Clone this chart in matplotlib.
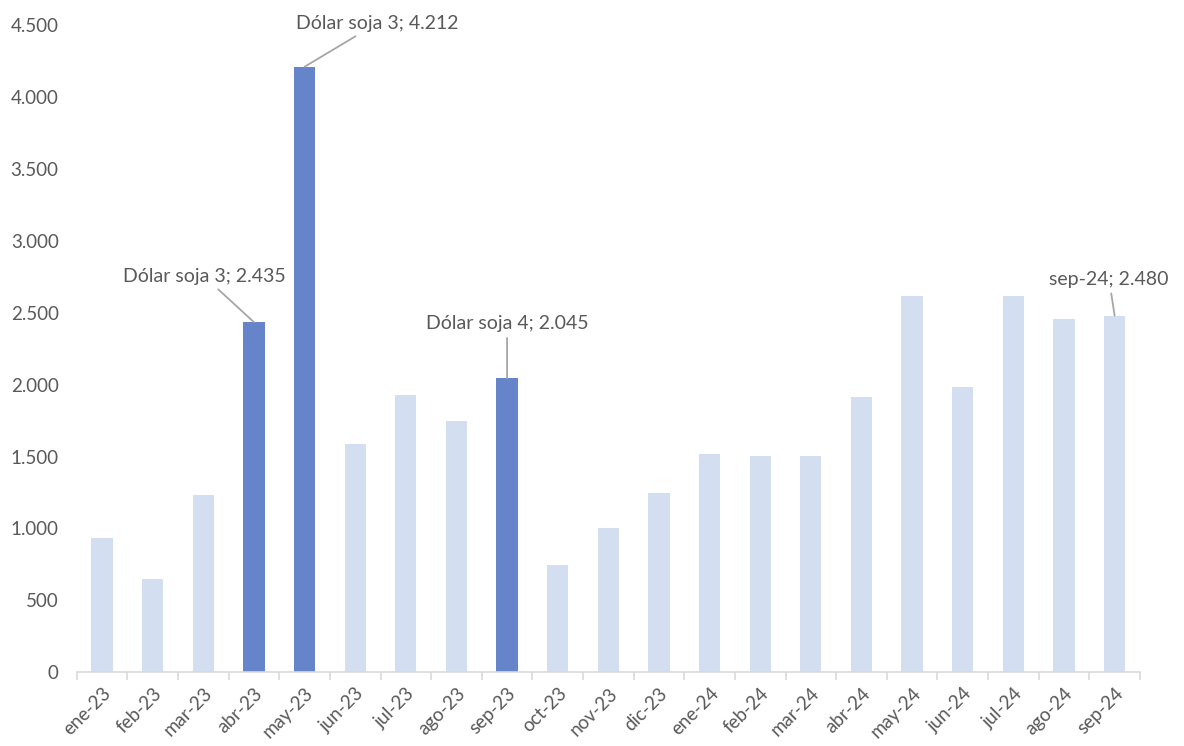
import numpy as np
import matplotlib.pyplot as plt
from matplotlib.ticker import FuncFormatter

months = ['ene-23', 'feb-23', 'mar-23', 'abr-23', 'may-23', 'jun-23', 'jul-23',
          'ago-23', 'sep-23', 'oct-23', 'nov-23', 'dic-23', 'ene-24', 'feb-24',
          'mar-24', 'abr-24', 'may-24', 'jun-24', 'jul-24', 'ago-24', 'sep-24']
values = [930, 647, 1231, 2435, 4212, 1585, 1926, 1745, 2045, 744, 1001, 1245,
          1516, 1502, 1502, 1912, 2615, 1982, 2615, 2455, 2480]
highlight = ['abr-23', 'may-23', 'sep-23']

# labelled bars: (month, text, text offset in points)
labels = [('abr-23', 'Dólar soja 3; 2.435', (-36, 27)),
          ('may-23', 'Dólar soja 3; 4.212', (52, 25)),
          ('sep-23', 'Dólar soja 4; 2.045', (0, 33)),
          ('sep-24', 'sep-24; 2.480', (-4, 20))]

light = '#D3DEF1'
dark = '#6584CA'
grey = '#595959'

plt.rcParams['font.family'] = ['Lato', 'DejaVu Sans']

fig = plt.figure(figsize=(11.84, 7.46), dpi=100)
ax = fig.add_axes([0.0648, 0.099, 0.898, 0.867])

x = np.arange(len(months))
colors = [dark if m in highlight else light for m in months]
ax.bar(x, values, width=0.42, color=colors)

ax.set_xlim(-0.5, len(months) - 0.5)
ax.set_ylim(0, 4500)
ax.set_yticks(np.arange(0, 4501, 500))
ax.yaxis.set_major_formatter(FuncFormatter(lambda v, p: f'{int(v):,}'.replace(',', '.')))

ax.set_xticks(x)
ax.set_xticklabels(months, rotation=45, ha='right', rotation_mode='anchor')
ax.set_xticks(np.arange(-0.5, len(months)), minor=True)
ax.tick_params(axis='x', which='major', length=0, pad=9, labelsize=13.5, colors=grey)
ax.tick_params(axis='x', which='minor', length=6, color='#D9D9D9', width=1.2)
ax.tick_params(axis='y', length=0, labelsize=13.5, colors=grey, pad=13)

for s in ['top', 'right', 'left']:
    ax.spines[s].set_visible(False)
ax.spines['bottom'].set_color('#D9D9D9')
ax.spines['bottom'].set_linewidth(1.2)

for m, txt, off in labels:
    i = months.index(m)
    ax.annotate(txt, xy=(i, values[i]), xytext=off, textcoords='offset points',
                ha='center', va='bottom', fontsize=14, color=grey,
                arrowprops=dict(arrowstyle='-', color='#A6A6A6', lw=1.3,
                                shrinkA=2, shrinkB=0))

fig.savefig('out.png', dpi=100)
